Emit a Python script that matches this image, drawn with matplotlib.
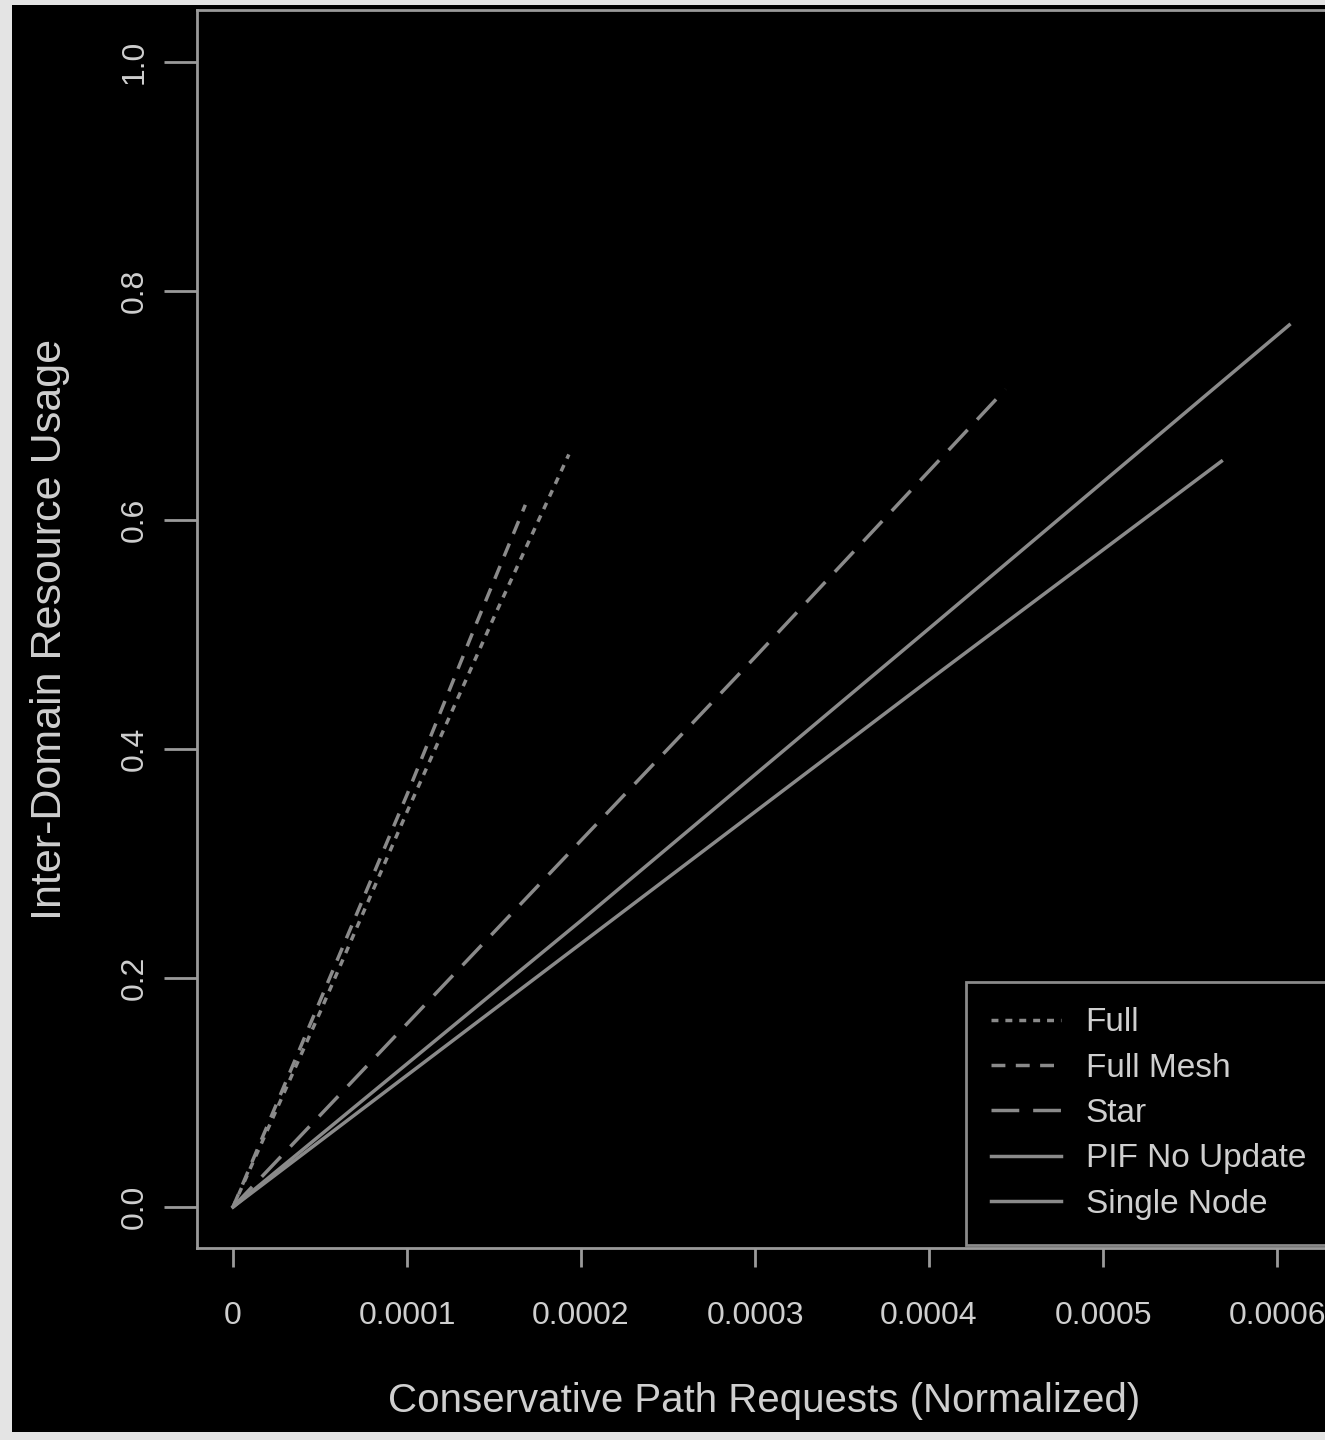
import matplotlib
matplotlib.use("Agg")
import matplotlib.pyplot as plt
from matplotlib.patches import Rectangle

plt.rcParams['font.family'] = ['Liberation Sans', 'DejaVu Sans']

# series (x: normalized requests, y: resource usage)
full_x = [0, 0.00005, 0.0001, 0.00015, 0.000193]
full_y = [0, 0.17, 0.345, 0.515, 0.657]
mesh_x = [0, 0.00005, 0.0001, 0.00014, 0.000168]
mesh_y = [0, 0.18, 0.36, 0.51, 0.613]
star_x = [0, 0.0001, 0.0002, 0.0003, 0.000444]
star_y = [0, 0.16, 0.32, 0.48, 0.714]
pif_x = [0, 0.0001, 0.0002, 0.0004, 0.000607]
pif_y = [0, 0.125, 0.25, 0.505, 0.770]
single_x = [0, 0.0001, 0.0002, 0.0004, 0.000568]
single_y = [0, 0.115, 0.23, 0.46, 0.651]

labels = ["Full", "Full Mesh", "Star", "PIF No Update", "Single Node"]
styles = [(0, (2, 2)), (0, (4, 3)), (0, (8, 4)), "-", "-"]

xticks = [0, 0.0001, 0.0002, 0.0003, 0.0004, 0.0005, 0.0006]
xticklabels = ["0", "0.0001", "0.0002", "0.0003", "0.0004", "0.0005", "0.0006"]
yticks = [0.0, 0.2, 0.4, 0.6, 0.8, 1.0]
yticklabels = ["0.0", "0.2", "0.4", "0.6", "0.8", "1.0"]

W, H = 1325, 1440
fig = plt.figure(figsize=(W / 100, H / 100), dpi=100)
fig.patch.set_facecolor("#e4e4e4")
# dark canvas inside a thin light border
fig.add_artist(Rectangle((12 / W, 8 / H), 1 - 12 / W, 1 - 13 / H,
                         transform=fig.transFigure, facecolor="black",
                         edgecolor="none", zorder=0))

ax = fig.add_axes([197 / W, 192 / H, (1331 - 197) / W, (1248 - 10) / H])
ax.set_facecolor("black")

line_col = "#8a8a8a"
txt_col = "#cfcfcf"

series = [(full_x, full_y), (mesh_x, mesh_y), (star_x, star_y),
          (pif_x, pif_y), (single_x, single_y)]
for (xs, ys), lab, ls in zip(series, labels, styles):
    ax.plot(xs, ys, color=line_col, lw=2.5, linestyle=ls, label=lab)

ax.set_xlim(-0.0000207, 0.000631)
ax.set_ylim(-0.0358, 1.045)

ax.set_xticks(xticks)
ax.set_xticklabels(xticklabels)
ax.set_yticks(yticks)
ax.set_yticklabels(yticklabels, rotation=90, va="center")

for s in ax.spines.values():
    s.set_color("#9a9a9a")
    s.set_linewidth(2)

ax.tick_params(axis="x", colors="#9a9a9a", labelcolor=txt_col, length=14,
               width=2, pad=24, labelsize=23)
ax.tick_params(axis="y", colors="#9a9a9a", labelcolor=txt_col, length=24,
               width=2, pad=10, labelsize=23)

ax.set_xlabel("Conservative Path Requests (Normalized)", color=txt_col,
              fontsize=29, labelpad=37)
ax.set_ylabel("Inter-Domain Resource Usage", color=txt_col, fontsize=31,
              labelpad=36)

leg = ax.legend(loc="lower right", bbox_to_anchor=(1.003, 0.0), fontsize=24,
                frameon=True, fancybox=False, handlelength=2.1,
                handletextpad=0.75, borderpad=0.75, labelspacing=0.43,
                borderaxespad=0.1)
leg.get_frame().set_facecolor("black")
leg.get_frame().set_edgecolor("#8a8a8a")
leg.get_frame().set_linewidth(2)
leg.get_frame().set_alpha(1)
for t in leg.get_texts():
    t.set_color(txt_col)

fig.savefig("out.png", dpi=100, facecolor=fig.get_facecolor())
